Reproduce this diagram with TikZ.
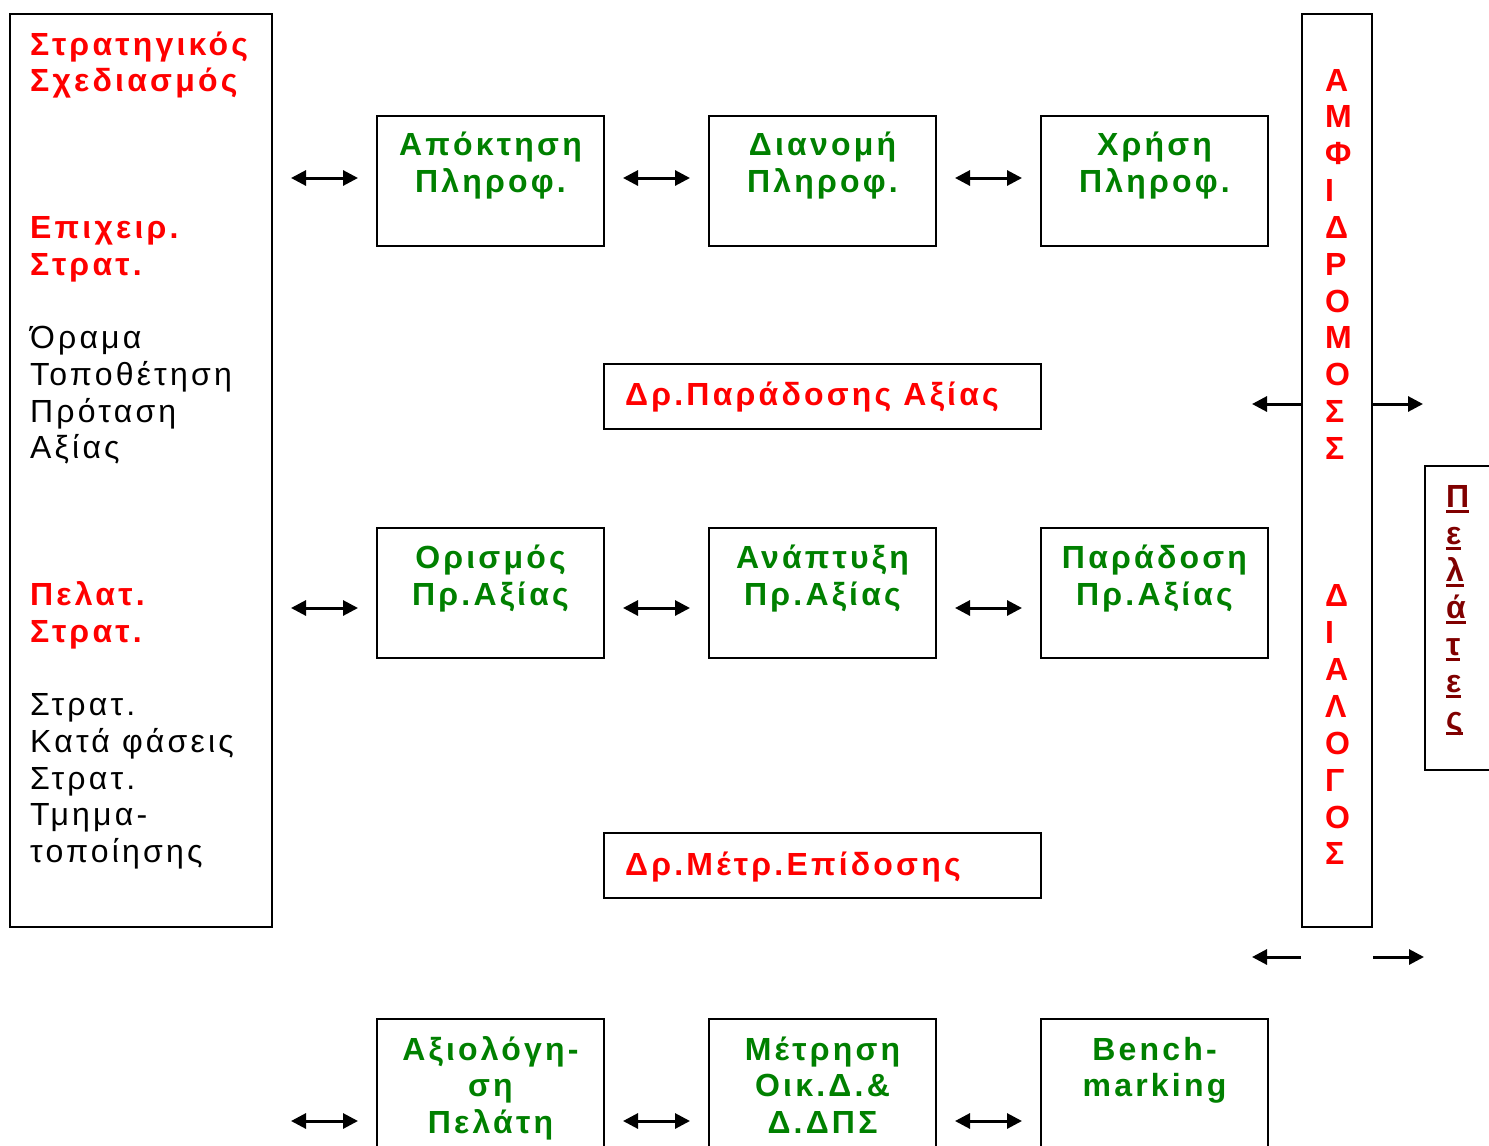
\documentclass[tikz,border=0pt]{standalone}
\usepackage{fontspec}
\setmainfont{Liberation Sans}[LetterSpace=10]
\usetikzlibrary{arrows.meta}
\definecolor{dgreen}{RGB}{0,128,0}
\definecolor{bred}{RGB}{255,0,0}
\definecolor{dred}{RGB}{128,0,0}
% underlined single letter, rule at a fixed depth
\newcommand\ulet[1]{\setbox0\hbox{#1}\rlap{\rule[-6pt]{\wd0}{3pt}}#1}

\begin{document}
\begin{tikzpicture}[x=1pt,y=-1pt,
  frame/.style={draw, line width=2pt, inner sep=0pt, minimum width=227pt, minimum height=130pt},
  wide/.style={draw, line width=2pt, inner sep=0pt},
  gtxt/.style={text=dgreen, font=\bfseries\fontsize{32}{36.7}\selectfont, anchor=base, inner sep=0pt},
  rtxt/.style={text=bred, font=\bfseries\fontsize{32}{36.7}\selectfont, anchor=base west, inner sep=0pt},
  ktxt/.style={text=black, font=\fontsize{32}{36.7}\selectfont, anchor=base west, inner sep=0pt},
  ptxt/.style={text=dred, font=\bfseries\fontsize{32}{36.7}\selectfont, anchor=base west, inner sep=0pt},
  biarrow/.style={line width=3pt, {Triangle[length=15pt,width=15pt]}-{Triangle[length=15pt,width=15pt]}, shorten <=18pt, shorten >=18pt},
  onearrow/.style={line width=3pt, -{Triangle[length=15pt,width=15pt]}}
]
\useasboundingbox (0,0) rectangle (1489,1146);

% strategic planning column
\node[wide, minimum width=262pt, minimum height=913pt] (strat) at (141,470.5) {};
\foreach \n/\t in {0/Στρατηγικός,1/Σχεδιασμός,5/Επιχειρ.,6/Στρατ.,15/Πελατ.,16/Στρατ.}
  \node[rtxt] (sr\n) at (30,{55+36.7*\n}) {\t};
\foreach \n/\t in {8/Όραμα,9/Τοποθέτηση,10/Πρόταση,11/Αξίας,18/Στρατ.,19/Κατά φάσεις,20/Στρατ.,21/Τμημα-,22/τοποίησης}
  \node[ktxt] (sk\n) at (30,{55+36.7*\n}) {\t};

% process boxes
\node[frame] (a1) at (490.5,181) {};
\node[frame] (a2) at (822.5,181) {};
\node[frame] (a3) at (1154.5,181) {};
\node[frame] (b1) at (490.5,592.5) {};
\node[frame] (b2) at (822.5,592.5) {};
\node[frame] (b3) at (1154.5,592.5) {};
\node[frame] (c1) at (490.5,1084) {};
\node[frame] (c2) at (822.5,1084) {};
\node[frame] (c3) at (1154.5,1084) {};

\foreach \t [count=\k] in {Απόκτηση,Πληροφ.}
  \node[gtxt] (a1t\k) at (490.5,{155+37*(\k-1)}) {\t};
\foreach \t [count=\k] in {Διανομή,Πληροφ.}
  \node[gtxt] (a2t\k) at (822.5,{155+37*(\k-1)}) {\t};
\foreach \t [count=\k] in {Χρήση,Πληροφ.}
  \node[gtxt] (a3t\k) at (1154.5,{155+37*(\k-1)}) {\t};
\foreach \t [count=\k] in {Ορισμός,Πρ.Αξίας}
  \node[gtxt] (b1t\k) at (490.5,{568+37*(\k-1)}) {\t};
\foreach \t [count=\k] in {Ανάπτυξη,Πρ.Αξίας}
  \node[gtxt] (b2t\k) at (822.5,{568+37*(\k-1)}) {\t};
\foreach \t [count=\k] in {Παράδοση,Πρ.Αξίας}
  \node[gtxt] (b3t\k) at (1154.5,{568+37*(\k-1)}) {\t};
\foreach \t [count=\k] in {Αξιολόγη-,ση,Πελάτη}
  \node[gtxt] (c1t\k) at (490.5,{1060+36.5*(\k-1)}) {\t};
\foreach \t [count=\k] in {Μέτρηση,Οικ.Δ.\&,Δ.ΔΠΣ}
  \node[gtxt] (c2t\k) at (822.5,{1060+36.5*(\k-1)}) {\t};
\foreach \t [count=\k] in {Bench-,marking}
  \node[gtxt] (c3t\k) at (1154.5,{1060+36.5*(\k-1)}) {\t};

% driver boxes
\node[wide, minimum width=437pt, minimum height=65pt] (d1) at (822.5,396.5) {};
\node[rtxt] (d1t) at (625,405) {Δρ.Παράδοσης Αξίας};
\node[wide, minimum width=437pt, minimum height=65pt] (d2) at (822.5,865.5) {};
\node[rtxt] (d2t) at (625,875) {Δρ.Μέτρ.Επίδοσης};

% two-way dialogue column
\node[wide, minimum width=70pt, minimum height=913pt] (dialog) at (1337,470.5) {};
\foreach \t [count=\k from 0] in {Α,Μ,Φ,Ι,Δ,Ρ,Ο,Μ,Ο,Σ,Σ}
  \node[rtxt] (v\k) at (1325,{91+36.85*\k}) {\t};
\foreach \t [count=\k from 14] in {Δ,Ι,Α,Λ,Ο,Γ,Ο,Σ}
  \node[rtxt] (v\k) at (1325,{91+36.85*\k}) {\t};

% customers
\node[wide, minimum width=90pt, minimum height=304pt] (pel) at (1470,618) {};
\foreach \t [count=\k from 0] in {Π,ε,λ,ά,τ,ε,ς}
  \node[ptxt] (p\k) at (1446,{507+37*\k}) {\ulet{\t}};

% arrow rows
\coordinate (r1) at (0,178);
\coordinate (r2) at (0,608);
\coordinate (r3) at (0,1121);
\coordinate (r4) at (0,404);
\coordinate (r5) at (0,957);
\coordinate (fl1) at (1252,404);
\coordinate (fl2) at (1252,957);
\coordinate (fr2) at (1424,957);

\draw[biarrow] (strat.east |- r1) -- (a1.west |- r1);
\draw[biarrow] (a1.east |- r1) -- (a2.west |- r1);
\draw[biarrow] (a2.east |- r1) -- (a3.west |- r1);
\draw[biarrow] (strat.east |- r2) -- (b1.west |- r2);
\draw[biarrow] (b1.east |- r2) -- (b2.west |- r2);
\draw[biarrow] (b2.east |- r2) -- (b3.west |- r2);
\draw[biarrow] (strat.east |- r3) -- (c1.west |- r3);
\draw[biarrow] (c1.east |- r3) -- (c2.west |- r3);
\draw[biarrow] (c2.east |- r3) -- (c3.west |- r3);

\draw[onearrow] (dialog.west |- r4) -- (fl1);
\draw[onearrow, shorten >=1pt] (dialog.east |- r4) -- (pel.west |- r4);
\draw[onearrow] (dialog.west |- r5) -- (fl2);
\draw[onearrow] (dialog.east |- r5) -- (fr2);
\end{tikzpicture}
\end{document}
